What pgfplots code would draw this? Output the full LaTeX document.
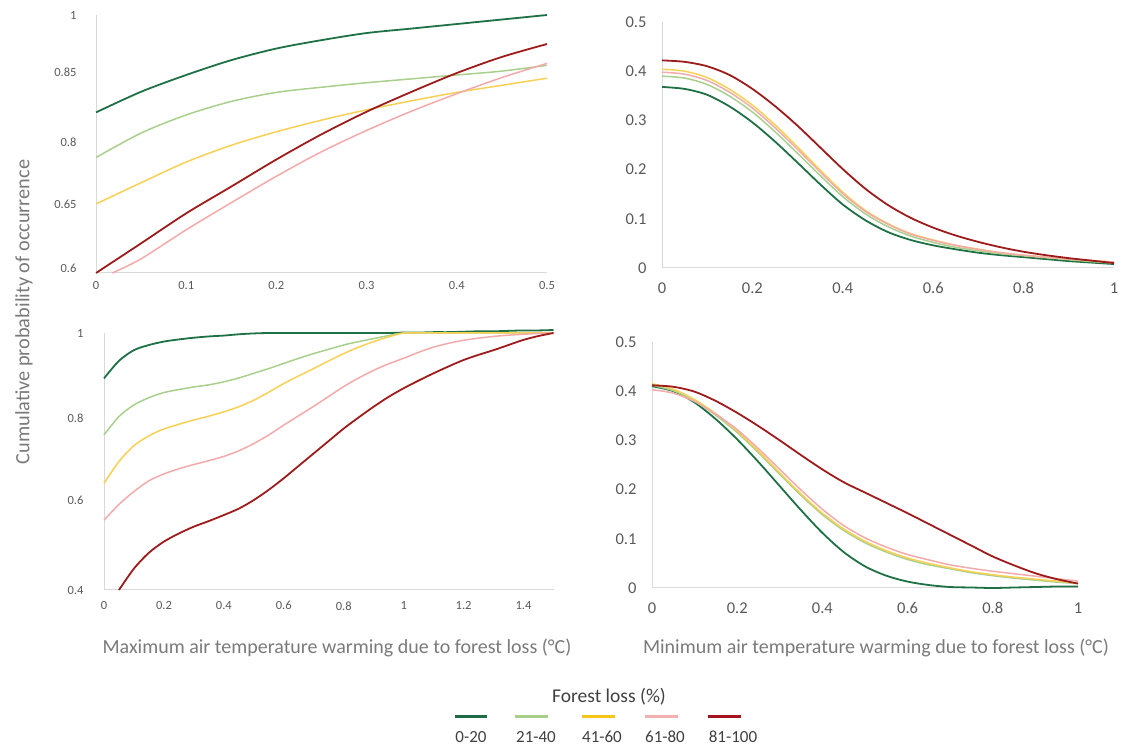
\documentclass[border=0pt]{standalone}
\usepackage{fontspec}
\setmainfont{Carlito}
\usepackage{pgfplots}
\pgfplotsset{compat=1.18}
\definecolor{cA}{HTML}{1E7145}
\definecolor{cB}{HTML}{A9CF8C}
\definecolor{cC}{HTML}{F7D054}
\definecolor{cD}{HTML}{F2AAAA}
\definecolor{cE}{HTML}{9E1B1B}
\definecolor{lA}{HTML}{1D6B45}
\definecolor{lB}{HTML}{A8CF8A}
\definecolor{lC}{HTML}{F5C518}
\definecolor{lD}{HTML}{F2B0B0}
\definecolor{lE}{HTML}{A3141E}
\definecolor{axgray}{HTML}{D9D9D9}
\definecolor{tickgray}{HTML}{595959}
\definecolor{titlegray}{HTML}{7A7A7A}
\definecolor{leggray}{HTML}{404040}
\pgfplotsset{
  panel/.style={scale only axis, anchor=south west,
    axis x line=bottom, axis y line=left,
    axis line style={draw=axgray, line width=1pt, -},
    major tick length=0pt, tick style={draw=none},
    clip=false,
    /pgf/number format/assume math mode=true,
    ticklabel style={text=tickgray},
    every axis plot/.append style={smooth, tension=0.5, no markers}},
  sA/.style={draw=cA, line width=1.8pt},
  sB/.style={draw=cB, line width=1.5pt},
  sC/.style={draw=cC, line width=1.5pt},
  sD/.style={draw=cD, line width=1.5pt},
  sE/.style={draw=cE, line width=1.8pt},
}
\begin{document}
\begin{tikzpicture}
\path[use as bounding box] (0pt,0pt) rectangle (1122pt,747pt);
% Top left
\begin{axis}[panel, at={(96pt,474pt)}, width=451pt, height=258pt,
  xmin=0, xmax=0.5, ymin=0.6, ymax=1,
  xtick={0,0.1,0.2,0.3,0.4,0.5}, xticklabels={0,0.1,0.2,0.3,0.4,0.5},
  ytick={0.6078,0.707,0.803,0.9116,1}, yticklabels={0.6,0.65,0.8,0.85,1},
  xticklabel style={font=\fontsize{12.5}{14}\selectfont, yshift=-5pt},
  yticklabel style={font=\fontsize{12.5}{14}\selectfont, xshift=-16pt}]
\addplot[sA] coordinates {(0,0.849)(0.05,0.881)(0.1,0.907)(0.15,0.930)(0.2,0.948)(0.25,0.961)(0.3,0.972)(0.35,0.979)(0.4,0.986)(0.45,0.993)(0.5,1.0)};
\addplot[sB] coordinates {(0,0.779)(0.05,0.817)(0.1,0.845)(0.15,0.866)(0.2,0.880)(0.25,0.888)(0.3,0.895)(0.35,0.901)(0.4,0.907)(0.45,0.913)(0.5,0.922)};
\addplot[sC] coordinates {(0,0.707)(0.05,0.740)(0.1,0.772)(0.15,0.798)(0.2,0.819)(0.25,0.837)(0.3,0.853)(0.35,0.867)(0.4,0.880)(0.45,0.891)(0.5,0.902)};
\addplot[sD] coordinates {(0.018,0.6)(0.05,0.622)(0.1,0.667)(0.15,0.709)(0.2,0.750)(0.25,0.788)(0.3,0.821)(0.35,0.851)(0.4,0.878)(0.45,0.903)(0.5,0.925)};
\addplot[sE] coordinates {(0,0.6)(0.05,0.646)(0.1,0.6925)(0.15,0.734)(0.2,0.776)(0.25,0.815)(0.3,0.850)(0.35,0.881)(0.4,0.910)(0.45,0.935)(0.5,0.955)};
\end{axis}
% Top right
\begin{axis}[panel, at={(662pt,479pt)}, width=452pt, height=246pt,
  xmin=0, xmax=1, ymin=0, ymax=0.5,
  xtick={0,0.2,0.4,0.6,0.8,1}, xticklabels={0,0.2,0.4,0.6,0.8,1},
  ytick={0,0.1,0.2,0.3,0.4,0.5}, yticklabels={0,0.1,0.2,0.3,0.4,0.5},
  xticklabel style={font=\fontsize{16.5}{18}\selectfont, yshift=-11pt},
  yticklabel style={font=\fontsize{16.5}{18}\selectfont, xshift=-12pt}]
\addplot[sA] coordinates {(0,0.368)(0.05,0.364)(0.1,0.352)(0.15,0.328)(0.2,0.296)(0.25,0.257)(0.3,0.214)(0.35,0.170)(0.4,0.129)(0.45,0.097)(0.5,0.073)(0.55,0.057)(0.6,0.046)(0.65,0.038)(0.7,0.031)(0.75,0.026)(0.8,0.022)(0.85,0.018)(0.9,0.014)(0.95,0.011)(1,0.008)};
\addplot[sB] coordinates {(0,0.390)(0.05,0.386)(0.1,0.373)(0.15,0.349)(0.2,0.317)(0.25,0.277)(0.3,0.233)(0.35,0.188)(0.4,0.145)(0.45,0.110)(0.5,0.084)(0.55,0.065)(0.6,0.052)(0.65,0.042)(0.7,0.035)(0.75,0.029)(0.8,0.025)(0.85,0.021)(0.9,0.017)(0.95,0.013)(1,0.010)};
\addplot[sC] coordinates {(0,0.404)(0.05,0.400)(0.1,0.387)(0.15,0.363)(0.2,0.331)(0.25,0.291)(0.3,0.246)(0.35,0.199)(0.4,0.154)(0.45,0.117)(0.5,0.090)(0.55,0.070)(0.6,0.057)(0.65,0.046)(0.7,0.038)(0.75,0.031)(0.8,0.026)(0.85,0.022)(0.9,0.018)(0.95,0.015)(1,0.012)};
\addplot[sD] coordinates {(0,0.398)(0.05,0.394)(0.1,0.381)(0.15,0.357)(0.2,0.325)(0.25,0.285)(0.3,0.241)(0.35,0.195)(0.4,0.151)(0.45,0.115)(0.5,0.089)(0.55,0.069)(0.6,0.056)(0.65,0.046)(0.7,0.038)(0.75,0.031)(0.8,0.026)(0.85,0.022)(0.9,0.018)(0.95,0.015)(1,0.012)};
\addplot[sE] coordinates {(0,0.422)(0.05,0.419)(0.1,0.410)(0.15,0.392)(0.2,0.364)(0.25,0.329)(0.3,0.289)(0.35,0.245)(0.4,0.201)(0.45,0.161)(0.5,0.128)(0.55,0.102)(0.6,0.082)(0.65,0.066)(0.7,0.053)(0.75,0.042)(0.8,0.033)(0.85,0.026)(0.9,0.020)(0.95,0.015)(1,0.010)};
\end{axis}
% Bottom left
\begin{axis}[panel, at={(104pt,157pt)}, width=449.5pt, height=257pt,
  xmin=0, xmax=1.5, ymin=0.4, ymax=1,
  xtick={0,0.2,0.4,0.6,0.8,1,1.2,1.4}, xticklabels={0,0.2,0.4,0.6,0.8,1,1.2,1.4},
  ytick={0.4,0.61,0.8016,1}, yticklabels={0.4,0.6,0.8,1},
  xticklabel style={font=\fontsize{12.5}{14}\selectfont, yshift=-8pt},
  yticklabel style={font=\fontsize{12.5}{14}\selectfont, xshift=-17pt}]
\addplot[sA] coordinates {(0,0.894)(0.05,0.935)(0.1,0.960)(0.15,0.972)(0.2,0.980)(0.25,0.985)(0.3,0.989)(0.35,0.992)(0.4,0.994)(0.45,0.997)(0.5,0.999)(0.55,1.0)(0.6,1.0)(0.65,1.0)(0.7,1.0)(0.75,1.0)(0.8,1.0)(0.85,1.0)(0.9,1.0)(0.95,1.0)(1.0,1.001)(1.05,1.001)(1.1,1.002)(1.15,1.002)(1.2,1.003)(1.25,1.004)(1.3,1.004)(1.35,1.005)(1.4,1.006)(1.45,1.006)(1.5,1.007)};
\addplot[sB] coordinates {(0,0.762)(0.05,0.805)(0.1,0.832)(0.15,0.849)(0.2,0.861)(0.25,0.868)(0.3,0.874)(0.35,0.879)(0.4,0.886)(0.45,0.895)(0.5,0.906)(0.55,0.917)(0.6,0.929)(0.65,0.941)(0.7,0.952)(0.75,0.962)(0.8,0.972)(0.85,0.980)(0.9,0.987)(0.95,0.994)(1.0,1.0)(1.05,1.0)(1.1,1.0)(1.15,1.0)(1.2,1.0)(1.25,1.0)(1.3,1.0)(1.35,1.0)(1.4,1.0)(1.45,1.0)(1.5,1.0)};
\addplot[sC] coordinates {(0,0.649)(0.05,0.700)(0.1,0.737)(0.15,0.760)(0.2,0.776)(0.25,0.787)(0.3,0.797)(0.35,0.806)(0.4,0.816)(0.45,0.828)(0.5,0.843)(0.55,0.862)(0.6,0.882)(0.65,0.900)(0.7,0.917)(0.75,0.935)(0.8,0.952)(0.85,0.967)(0.9,0.980)(0.95,0.991)(1.0,1.0)(1.05,1.0)(1.1,1.0)(1.15,1.0)(1.2,1.0)(1.25,1.0)(1.3,1.0)(1.35,1.0)(1.4,1.0)(1.45,1.0)(1.5,1.0)};
\addplot[sD] coordinates {(0,0.563)(0.05,0.600)(0.1,0.630)(0.15,0.655)(0.2,0.671)(0.25,0.683)(0.3,0.693)(0.35,0.702)(0.4,0.712)(0.45,0.725)(0.5,0.742)(0.55,0.762)(0.6,0.785)(0.65,0.807)(0.7,0.829)(0.75,0.852)(0.8,0.875)(0.85,0.895)(0.9,0.913)(0.95,0.928)(1.0,0.941)(1.05,0.955)(1.1,0.967)(1.15,0.976)(1.2,0.983)(1.25,0.988)(1.3,0.992)(1.35,0.995)(1.4,0.997)(1.45,0.999)(1.5,1.0)};
\addplot[sE] coordinates {(0.05,0.400)(0.1,0.450)(0.15,0.487)(0.2,0.513)(0.25,0.532)(0.3,0.548)(0.35,0.561)(0.4,0.575)(0.45,0.590)(0.5,0.610)(0.55,0.634)(0.6,0.661)(0.65,0.690)(0.7,0.719)(0.75,0.748)(0.8,0.777)(0.85,0.803)(0.9,0.828)(0.95,0.851)(1.0,0.871)(1.05,0.889)(1.1,0.906)(1.15,0.922)(1.2,0.937)(1.25,0.949)(1.3,0.960)(1.35,0.972)(1.4,0.984)(1.45,0.993)(1.5,1.0)};
\end{axis}
% Bottom right
\begin{axis}[panel, at={(652pt,159pt)}, width=426pt, height=246pt,
  xmin=0, xmax=1, ymin=0, ymax=0.5,
  xtick={0,0.2,0.4,0.6,0.8,1}, xticklabels={0,0.2,0.4,0.6,0.8,1},
  ytick={0,0.1,0.2,0.3,0.4,0.5}, yticklabels={0,0.1,0.2,0.3,0.4,0.5},
  xticklabel style={font=\fontsize{16.5}{18}\selectfont, yshift=-11pt},
  yticklabel style={font=\fontsize{16.5}{18}\selectfont, xshift=-12pt}]
\addplot[sA] coordinates {(0,0.410)(0.05,0.400)(0.1,0.377)(0.15,0.343)(0.2,0.302)(0.25,0.256)(0.3,0.207)(0.35,0.158)(0.4,0.112)(0.45,0.073)(0.5,0.044)(0.55,0.025)(0.6,0.013)(0.65,0.006)(0.7,0.002)(0.75,0.001)(0.8,0.0)(0.85,0.001)(0.9,0.002)(0.95,0.003)(1,0.003)};
\addplot[sB] coordinates {(0,0.412)(0.05,0.401)(0.1,0.380)(0.15,0.351)(0.2,0.316)(0.25,0.275)(0.3,0.231)(0.35,0.188)(0.4,0.149)(0.45,0.117)(0.5,0.092)(0.55,0.073)(0.6,0.058)(0.65,0.047)(0.7,0.039)(0.75,0.031)(0.8,0.025)(0.85,0.020)(0.9,0.016)(0.95,0.012)(1,0.009)};
\addplot[sC] coordinates {(0,0.415)(0.05,0.404)(0.1,0.383)(0.15,0.354)(0.2,0.319)(0.25,0.278)(0.3,0.234)(0.35,0.191)(0.4,0.152)(0.45,0.120)(0.5,0.095)(0.55,0.076)(0.6,0.061)(0.65,0.050)(0.7,0.041)(0.75,0.033)(0.8,0.027)(0.85,0.022)(0.9,0.018)(0.95,0.014)(1,0.010)};
\addplot[sD] coordinates {(0,0.403)(0.05,0.396)(0.1,0.379)(0.15,0.353)(0.2,0.322)(0.25,0.283)(0.3,0.241)(0.35,0.199)(0.4,0.160)(0.45,0.127)(0.5,0.102)(0.55,0.083)(0.6,0.068)(0.65,0.057)(0.7,0.047)(0.75,0.040)(0.8,0.034)(0.85,0.029)(0.9,0.024)(0.95,0.019)(1,0.014)};
\addplot[sE] coordinates {(0,0.412)(0.05,0.409)(0.1,0.399)(0.15,0.380)(0.2,0.356)(0.25,0.329)(0.3,0.300)(0.35,0.270)(0.4,0.241)(0.45,0.215)(0.5,0.194)(0.55,0.173)(0.6,0.152)(0.65,0.130)(0.7,0.108)(0.75,0.086)(0.8,0.064)(0.85,0.046)(0.9,0.030)(0.95,0.018)(1,0.009)};
\end{axis}
% Titles
\node[text=titlegray, font=\fontsize{20}{22}\selectfont] at (337pt,99pt) {Maximum air temperature warming due to forest loss (°C)};
\node[text=titlegray, font=\fontsize{20}{22}\selectfont] at (876pt,99pt) {Minimum air temperature warming due to forest loss (°C)};
\node[text=titlegray, font=\fontsize{20.3}{22}\selectfont, rotate=90] at (24pt,435pt) {Cumulative probability of occurrence};
% Legend
\node[text=leggray, font=\fontsize{19.5}{21}\selectfont] at (609pt,50pt) {Forest loss (\%)};
\draw[lA, line width=3pt] (455pt,30pt) -- (487pt,30pt);
\draw[lB, line width=3pt] (515pt,30pt) -- (548pt,30pt);
\draw[lC, line width=3pt] (582pt,30pt) -- (615pt,30pt);
\draw[lD, line width=3pt] (645pt,30pt) -- (678pt,30pt);
\draw[lE, line width=3pt] (708pt,30pt) -- (741pt,30pt);
\node[text=leggray, font=\fontsize{17}{19}\selectfont] at (471pt,10pt) {0-20};
\node[text=leggray, font=\fontsize{17}{19}\selectfont] at (536pt,10pt) {21-40};
\node[text=leggray, font=\fontsize{17}{19}\selectfont] at (602pt,10pt) {41-60};
\node[text=leggray, font=\fontsize{17}{19}\selectfont] at (665pt,10pt) {61-80};
\node[text=leggray, font=\fontsize{17}{19}\selectfont] at (733pt,10pt) {81-100};
\end{tikzpicture}
\end{document}
